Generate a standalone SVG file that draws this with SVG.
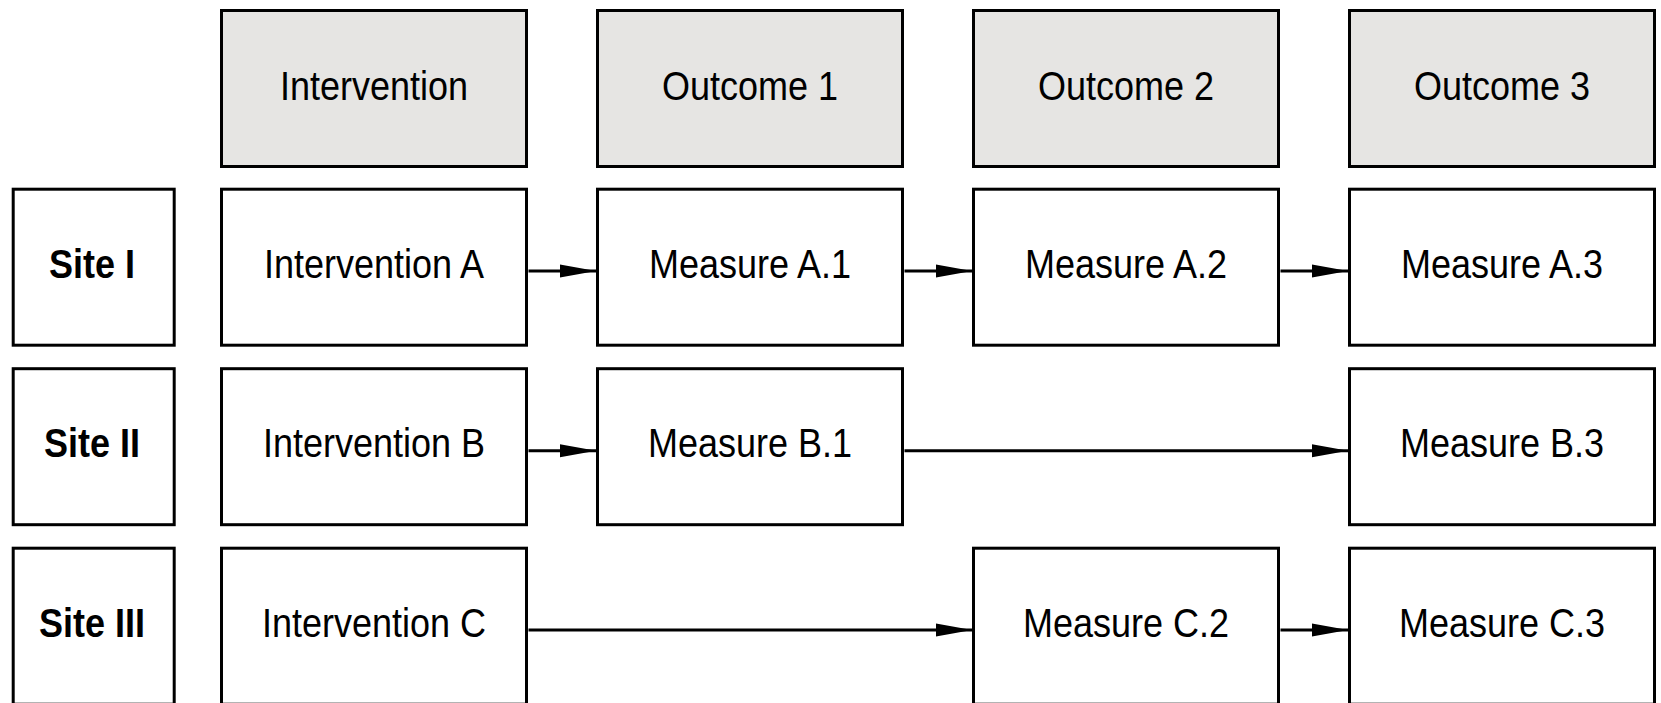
<svg xmlns="http://www.w3.org/2000/svg" width="1661" height="703" viewBox="0 0 1661 703">
<style>
.box{fill:#ffffff;stroke:#000;stroke-width:3}
.hdr{fill:#e6e5e3;stroke:#000;stroke-width:3}
.t{font-family:"Liberation Sans",Arial,sans-serif;font-size:40px;fill:#000;text-anchor:middle}
.b{font-weight:bold}
.c{stroke:#000;stroke-width:3;fill:none;marker-end:url(#ah)}
</style>
<defs>
<marker id="ah" markerUnits="userSpaceOnUse" markerWidth="37" markerHeight="14" refX="36" refY="7" orient="auto" viewBox="0 0 37 14">
<path d="M0,0.5 L36,7 L0,13.5 z" fill="#000"/>
</marker>
</defs>
<rect width="1661" height="703" fill="#fff"/>
<g id="header-intervention"><rect class="hdr" x="221.5" y="10.5" width="305" height="156"/><text class="t" transform="translate(374,99.5) scale(0.9,1)">Intervention</text></g>
<g id="header-outcome1"><rect class="hdr" x="597.5" y="10.5" width="305" height="156"/><text class="t" transform="translate(750,99.5) scale(0.9,1)">Outcome 1</text></g>
<g id="header-outcome2"><rect class="hdr" x="973.5" y="10.5" width="305" height="156"/><text class="t" transform="translate(1126,99.5) scale(0.9,1)">Outcome 2</text></g>
<g id="header-outcome3"><rect class="hdr" x="1349.5" y="10.5" width="305" height="156"/><text class="t" transform="translate(1502,99.5) scale(0.9,1)">Outcome 3</text></g>

<g id="site1"><rect class="box" x="13.2" y="189.2" width="161" height="156"/><text class="t b" transform="translate(92,277.7) scale(0.9,1)">Site I</text></g>
<g id="site2"><rect class="box" x="13.2" y="368.7" width="161" height="156"/><text class="t b" transform="translate(92,457.2) scale(0.9,1)">Site II</text></g>
<g id="site3"><rect class="box" x="13.2" y="548.2" width="161" height="156"/><text class="t b" transform="translate(92,636.7) scale(0.9,1)">Site III</text></g>

<g id="intA"><rect class="box" x="221.5" y="189.2" width="305" height="156"/><text class="t" transform="translate(374,277.7) scale(0.9,1)">Intervention A</text></g>
<g id="mA1"><rect class="box" x="597.5" y="189.2" width="305" height="156"/><text class="t" transform="translate(750,277.7) scale(0.9,1)">Measure A.1</text></g>
<g id="mA2"><rect class="box" x="973.5" y="189.2" width="305" height="156"/><text class="t" transform="translate(1126,277.7) scale(0.9,1)">Measure A.2</text></g>
<g id="mA3"><rect class="box" x="1349.5" y="189.2" width="305" height="156"/><text class="t" transform="translate(1502,277.7) scale(0.9,1)">Measure A.3</text></g>

<g id="intB"><rect class="box" x="221.5" y="368.7" width="305" height="156"/><text class="t" transform="translate(374,457.2) scale(0.9,1)">Intervention B</text></g>
<g id="mB1"><rect class="box" x="597.5" y="368.7" width="305" height="156"/><text class="t" transform="translate(750,457.2) scale(0.9,1)">Measure B.1</text></g>
<g id="mB3"><rect class="box" x="1349.5" y="368.7" width="305" height="156"/><text class="t" transform="translate(1502,457.2) scale(0.9,1)">Measure B.3</text></g>

<g id="intC"><rect class="box" x="221.5" y="548.2" width="305" height="156"/><text class="t" transform="translate(374,636.7) scale(0.9,1)">Intervention C</text></g>
<g id="mC2"><rect class="box" x="973.5" y="548.2" width="305" height="156"/><text class="t" transform="translate(1126,636.7) scale(0.9,1)">Measure C.2</text></g>
<g id="mC3"><rect class="box" x="1349.5" y="548.2" width="305" height="156"/><text class="t" transform="translate(1502,636.7) scale(0.9,1)">Measure C.3</text></g>

<g id="connectors">
<line class="c" x1="528.5" y1="271" x2="596" y2="271"/>
<line class="c" x1="904.5" y1="271" x2="972" y2="271"/>
<line class="c" x1="1280.5" y1="271" x2="1348" y2="271"/>
<line class="c" x1="528.5" y1="450.7" x2="596" y2="450.7"/>
<line class="c" x1="904.5" y1="450.7" x2="1348" y2="450.7"/>
<line class="c" x1="528.5" y1="630" x2="972" y2="630"/>
<line class="c" x1="1280.5" y1="630" x2="1348" y2="630"/>
</g>
</svg>
